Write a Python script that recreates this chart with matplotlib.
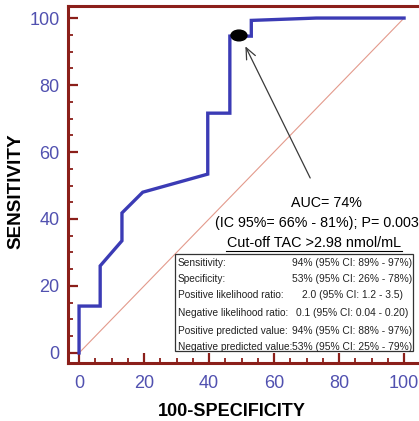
import matplotlib
matplotlib.use("Agg")
import matplotlib.pyplot as plt
from matplotlib.patches import Ellipse, Rectangle

plt.rcParams['font.family'] = ['Liberation Sans', 'DejaVu Sans']

# ROC curve (100-specificity, sensitivity)
roc_x = [0, 0, 6.5, 6.5, 13.2, 13.2, 19.6, 39.6, 39.6, 46.4, 46.4, 53.0, 53.0, 73.0, 100]
roc_y = [0, 14, 14, 26, 33.5, 41.8, 48, 53.4, 71.6, 71.6, 94.6, 94.6, 99.3, 100, 100]
cut_point = (49.2, 94.8)

xticks = [0, 20, 40, 60, 80, 100]
yticks = [0, 20, 40, 60, 80, 100]

auc_text = "AUC= 74%"
ci_text = "(IC 95%= 66% - 81%); P= 0.003"
cutoff_text = "Cut-off TAC >2.98 nmol/mL"

stat_names = ["Sensitivity:", "Specificity:", "Positive likelihood ratio:",
              "Negative likelihood ratio:", "Positive predicted value:",
              "Negative predicted value:"]
stat_values = ["94% (95% CI: 89% - 97%)", "53% (95% CI: 26% - 78%)",
               "2.0 (95% CI: 1.2 - 3.5)", "0.1 (95% CI: 0.04 - 0.20)",
               "94% (95% CI: 88% - 97%)", "53% (95% CI: 25% - 79%)"]

W, H = 419, 421
fig = plt.figure(figsize=(W / 100, H / 100), dpi=100)
ax = fig.add_axes([68 / W, 58 / H, 351 / W, 357 / H])
ax.set_xlim(-3.4, 104.6)
ax.set_ylim(-3.0, 103.6)

spine_col = '#8b1f1a'
for s in ['left', 'bottom', 'top']:
    ax.spines[s].set_color(spine_col)
    ax.spines[s].set_linewidth(2.2)
ax.spines['right'].set_visible(False)

ax.set_xticks(xticks)
ax.set_yticks(yticks)
ax.set_xticks(range(0, 101, 5), minor=True)
ax.set_yticks(range(0, 101, 5), minor=True)
tick_col = '#5151b0'
ax.tick_params(axis='both', which='major', direction='in', length=7, width=1.6,
               color=spine_col, labelsize=13, labelcolor=tick_col)
ax.tick_params(axis='both', which='minor', direction='in', length=3.5, width=1.3,
               color=spine_col)
ax.tick_params(axis='x', which='major', pad=9)
ax.tick_params(axis='y', which='major', pad=6)
ax.tick_params(top=False, right=False, which='both')

fig.text(231.5 / W, 1 - 412 / H, "100-SPECIFICITY", fontsize=13, fontweight='bold',
         ha='center', va='center')
fig.text(15.5 / W, 1 - 191 / H, "SENSITIVITY", fontsize=13.6, fontweight='bold',
         ha='center', va='center', rotation=90)

# diagonal
ax.plot([0, 100], [0, 100], color='#e39a8c', lw=0.8, zorder=2)
# ROC
ax.plot(roc_x, roc_y, color='#3b3bb5', lw=2.4, solid_joinstyle='miter', zorder=3)
ax.add_patch(Ellipse(cut_point, 4.9, 3.2, facecolor='black', edgecolor='black', zorder=4))

ax.annotate("", xy=(50.8, 92.3), xytext=(71.5, 51.5),
            arrowprops=dict(arrowstyle='->,head_length=0.8,head_width=0.35',
                            color='#3a3a3a', lw=0.9), zorder=5)


def px2data(px, py):
    return ax.transData.inverted().transform(fig.transFigure.transform((px / W, 1 - py / H)))


x, y = px2data(326.5, 203)
ax.text(x, y, auc_text, ha='center', va='center', fontsize=10.3)
x, y = px2data(215, 223)
ax.text(x, y, ci_text, ha='left', va='center', fontsize=10.3, clip_on=False)
x, y = px2data(314, 243)
ax.text(x, y, cutoff_text, ha='center', va='center', fontsize=10.4)
# underline of cut-off text
ux0, uy = px2data(226, 251)
ux1, _ = px2data(402, 251)
ax.plot([ux0, ux1], [uy, uy], color='black', lw=0.8)

# statistics box
bx0, by0 = px2data(175, 351)
bx1, by1 = px2data(413, 254)
ax.add_patch(Rectangle((bx0, by0), bx1 - bx0, by1 - by0, facecolor='white',
                       edgecolor='#333333', lw=0.9, zorder=6))
row_y = [263, 279, 295.5, 312.5, 330.5, 347]
for n, v, yy in zip(stat_names, stat_values, row_y):
    lx, ly = px2data(178, yy)
    cx, _ = px2data(352.5, yy)
    ax.text(lx, ly, n, ha='left', va='center', fontsize=7.25, zorder=7, color='#222222')
    ax.text(cx, ly, v, ha='center', va='center', fontsize=7.4, zorder=7, color='#222222')

fig.savefig("out.png", dpi=100)
